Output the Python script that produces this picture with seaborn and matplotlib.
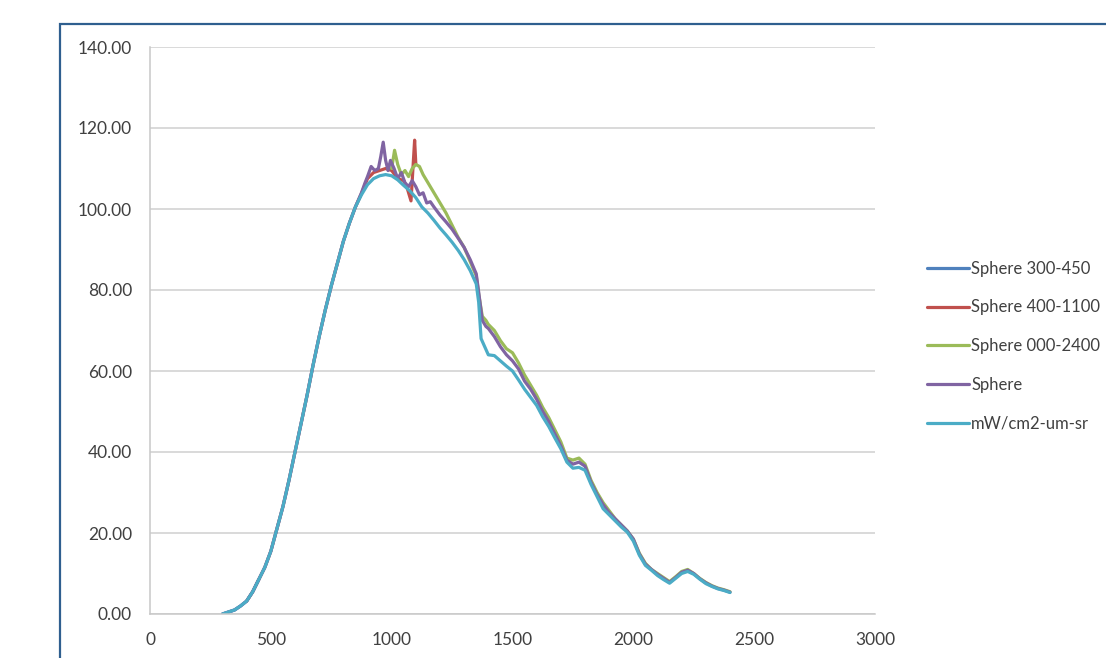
import numpy as np
import pandas as pd
import matplotlib
matplotlib.use('Agg')
import matplotlib.pyplot as plt
from matplotlib.patches import Rectangle
import seaborn as sns

sns.set_style('white')
plt.rcParams['font.family'] = ['Lato', 'DejaVu Sans']

# ---- data ----
series_names = ['Sphere 300-450', 'Sphere 400-1100', 'Sphere 000-2400',
                'Sphere', 'mW/cm2-um-sr']
colors = ['#4F81BD', '#C0504D', '#9BBB59', '#8064A2', '#4BACC6']

wl_rise = [300, 325, 350, 375, 400, 425, 450, 475, 500, 525, 550, 575, 600,
           625, 650, 675, 700, 725, 750, 775, 800, 825, 850]
val_rise = [0.0, 0.5, 1.0, 2.0, 3.2, 5.5, 8.5, 11.5, 15.5, 21.0, 26.5, 33.0,
            40.0, 47.0, 54.0, 61.5, 68.5, 75.0, 81.0, 86.5, 92.0, 96.5, 100.5]

# Sphere 300-450
wl_blue = [300, 325, 350, 375, 400, 425, 450]
val_blue = [0.0, 0.5, 1.0, 2.0, 3.2, 5.5, 8.5]

# Sphere 400-1100
wl_red = [400, 425, 450, 475, 500, 525, 550, 575, 600, 625, 650, 675, 700,
          725, 750, 775, 800, 825, 850, 875, 900, 925, 950, 975, 1000, 1025,
          1050, 1065, 1080, 1088, 1095, 1100]
val_red = [3.2, 5.5, 8.5, 11.5, 15.5, 21.0, 26.5, 33.0, 40.0, 47.0, 54.0,
           61.5, 68.5, 75.0, 81.0, 86.5, 92.0, 96.5, 100.5, 103.8, 107.5,
           109.0, 109.5, 110.0, 109.5, 107.5, 107.0, 105.0, 102.0, 110.0,
           117.0, 111.0]

# Sphere 000-2400
wl_green = [1000, 1012, 1025, 1040, 1055, 1070, 1085, 1100, 1115, 1130, 1150,
            1175, 1200, 1225, 1250, 1275, 1300, 1325, 1350, 1360, 1375, 1390,
            1400, 1425, 1450, 1475, 1500, 1525, 1550, 1575, 1600, 1625, 1650,
            1675, 1700, 1725, 1750, 1775, 1800, 1825, 1850, 1875, 1900, 1925,
            1950, 1975, 2000, 2025, 2050, 2075, 2100, 2125, 2150, 2175, 2200,
            2225, 2250, 2275, 2300, 2325, 2350, 2375, 2400]
val_green = [110.0, 114.5, 111.0, 108.5, 109.5, 108.0, 110.0, 111.0, 110.5,
             108.5, 106.5, 104.0, 101.5, 99.0, 96.0, 93.0, 90.5, 87.0, 83.5,
             79.0, 73.5, 72.5, 71.5, 70.0, 67.5, 65.5, 64.5, 62.0, 59.0, 56.5,
             54.0, 51.0, 48.5, 45.5, 42.5, 38.5, 38.0, 38.5, 37.0, 33.0, 30.0,
             27.5, 25.5, 23.5, 22.0, 20.5, 18.5, 15.0, 12.5, 11.0, 10.0, 9.0,
             8.0, 9.2, 10.5, 11.0, 10.0, 8.8, 7.8, 7.0, 6.4, 6.0, 5.5]

# Sphere
wl_purple = wl_rise + [875, 890, 900, 915, 930, 945, 955, 965, 975, 985, 995,
                       1010, 1025, 1040, 1055, 1070, 1085, 1100, 1115, 1130,
                       1145, 1160, 1175, 1200, 1225, 1250, 1275, 1300, 1325,
                       1350, 1360, 1375, 1390, 1400, 1425, 1450, 1475, 1500,
                       1525, 1550, 1575, 1600, 1625, 1650, 1675, 1700, 1725,
                       1750, 1775, 1800, 1825, 1850, 1875, 1900, 1925, 1950,
                       1975, 2000, 2025, 2050, 2075, 2100, 2125, 2150, 2175,
                       2200, 2225, 2250, 2275, 2300, 2325, 2350, 2375, 2400]
val_purple = val_rise + [104.0, 106.5, 108.0, 110.5, 109.5, 110.0, 113.0,
                         116.5, 112.0, 109.5, 112.0, 110.0, 107.5, 109.0,
                         106.5, 105.5, 107.0, 105.5, 103.5, 104.0, 101.5,
                         101.8, 100.5, 98.5, 96.8, 95.0, 92.8, 90.5, 87.5,
                         84.0, 79.5, 72.5, 71.0, 70.5, 68.5, 66.0, 64.0, 62.5,
                         60.5, 57.5, 55.5, 53.0, 50.0, 47.5, 44.5, 41.5, 38.0,
                         37.0, 37.5, 36.5, 32.5, 29.5, 27.0, 25.0, 23.5, 22.0,
                         20.5, 18.5, 14.8, 12.3, 11.0, 9.8, 8.8, 7.8, 9.0,
                         10.3, 10.8, 10.0, 8.7, 7.7, 6.9, 6.3, 5.9, 5.4]

# mW/cm2-um-sr
wl_cyan = wl_rise + [875, 900, 925, 950, 975, 1000, 1025, 1050, 1075, 1100,
                     1125, 1150, 1175, 1200, 1225, 1250, 1275, 1300, 1325,
                     1350, 1360, 1370, 1385, 1400, 1425, 1450, 1475, 1500,
                     1525, 1550, 1575, 1600, 1625, 1650, 1675, 1700, 1725,
                     1750, 1775, 1800, 1825, 1850, 1875, 1900, 1925, 1950,
                     1975, 2000, 2025, 2050, 2075, 2100, 2125, 2150, 2175,
                     2200, 2225, 2250, 2275, 2300, 2325, 2350, 2375, 2400]
val_cyan = val_rise + [103.5, 106.0, 107.5, 108.2, 108.5, 108.2, 107.2,
                       105.8, 104.5, 102.8, 100.5, 99.0, 97.2, 95.3, 93.6,
                       91.8, 89.8, 87.5, 84.8, 81.5, 77.0, 68.0, 66.0, 64.0,
                       63.8, 62.5, 61.2, 60.0, 57.8, 55.5, 53.5, 51.5, 48.7,
                       46.3, 43.5, 40.8, 37.5, 36.0, 36.2, 35.5, 32.0, 29.0,
                       26.0, 24.5, 23.0, 21.5, 20.2, 18.0, 14.5, 12.0, 10.8,
                       9.5, 8.5, 7.6, 8.8, 10.0, 10.5, 9.8, 8.6, 7.5, 6.8,
                       6.2, 5.8, 5.3]

y_ticks = [0, 20, 40, 60, 80, 100, 120, 140]
x_ticks = [0, 500, 1000, 1500, 2000, 2500, 3000]

frames = []
for name, wl, val in zip(series_names,
                         [wl_blue, wl_red, wl_green, wl_purple, wl_cyan],
                         [val_blue, val_red, val_green, val_purple, val_cyan]):
    frames.append(pd.DataFrame({'wl': wl, 'val': val, 'series': name}))
df = pd.concat(frames, ignore_index=True)

fig = plt.figure(figsize=(11.06, 6.58), dpi=100)
ax = fig.add_axes([150 / 1106, 1 - 614 / 658, 725 / 1106, 567 / 658])

sns.lineplot(data=df, x='wl', y='val', hue='series', hue_order=series_names,
             palette=colors, estimator=None, linewidth=2.3, ax=ax)

ax.set_xlim(0, 3000)
ax.set_ylim(0, 140)
ax.set_xticks(x_ticks)
ax.set_yticks(y_ticks)
ax.set_yticklabels(['%.2f' % v for v in y_ticks])
ax.set_xlabel('')
ax.set_ylabel('')

grid_color = '#D0D0D0'
ax.yaxis.grid(True, color=grid_color, linewidth=1.1)
ax.set_axisbelow(True)
for side in ['top', 'right']:
    ax.spines[side].set_visible(False)
for side in ['left', 'bottom']:
    ax.spines[side].set_color('#C8C8C8')
    ax.spines[side].set_linewidth(1.1)
ax.tick_params(axis='both', direction='out', length=4, width=1,
               color='#C8C8C8', labelsize=12.5, labelcolor='#404040', pad=9)

handles, labels = ax.get_legend_handles_labels()
ax.get_legend().remove()
fig.legend(handles, labels, loc='center left', bbox_to_anchor=(0.832, 0.474),
           frameon=False, fontsize=12, handlelength=2.5, handletextpad=0.15,
           labelspacing=1.36, labelcolor='#404040', borderaxespad=0)

# outer chart-area border (only top and left edges visible)
fig.patches.append(Rectangle((60 / 1106, -0.05), 1.0, 0.9635 + 0.05,
                             transform=fig.transFigure, fill=False,
                             edgecolor='#2F5F8F', linewidth=1.6))

fig.savefig('out.png', dpi=100)
